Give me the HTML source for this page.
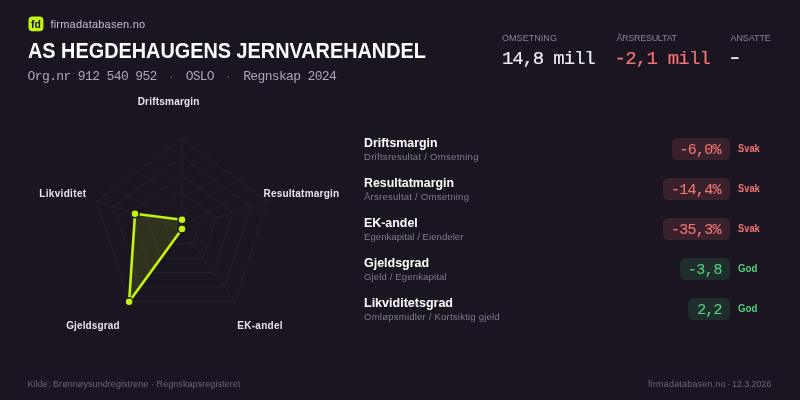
<!DOCTYPE html>
<html lang="no">
<head>
<meta charset="utf-8">
<title>AS HEGDEHAUGENS JERNVAREHANDEL – firmadatabasen.no</title>
<style>
*{margin:0;padding:0;box-sizing:border-box}
html,body{width:800px;height:400px;overflow:hidden;background:#1b1521}
body{position:relative;font-family:"Liberation Sans",sans-serif;-webkit-font-smoothing:antialiased}
#card{position:absolute;left:0;top:0;width:800px;height:400px;overflow:hidden;background:#1b1521;will-change:transform}
.t{position:absolute;white-space:pre;transform-origin:0 50%}
.s{font-family:"Liberation Sans",sans-serif}
.m{font-family:"Liberation Mono",monospace;-webkit-text-stroke:.16px currentColor}
.b{font-weight:700}
.ns{-webkit-text-stroke:0}
.ls{-webkit-text-stroke:.12px currentColor}
.logo{position:absolute;left:28px;top:16px;width:16px;height:16px}
.logo span{position:absolute;left:3.4px;top:.6px;font:700 11.6px/13px "Liberation Sans",sans-serif;color:#17131f;transform:scaleX(.9);transform-origin:0 50%}
.pill{position:absolute;height:22px;border-radius:5px}
.pill.bad{background:#38212b}
.pill.good{background:#1f2d2c}
svg{position:absolute;left:0;top:0}
.grid polygon,.grid line{fill:none;stroke:#25202a;stroke-width:1}
.shape{fill:#c3f60c;fill-opacity:.13;stroke:#c3f60c;stroke-width:2.6;stroke-linejoin:round}
.dots circle{fill:#c3f60c;stroke:#1b1521;stroke-width:1.5}
</style>
</head>
<body>
<div id="card">
<svg width="800" height="400" viewBox="0 0 800 400">
<rect x="28.5" y="16.5" width="14.9" height="14.85" rx="4" fill="#c3f60c"/>
<g class="grid"><polygon points="182.00,211.00 199.12,223.44 192.58,243.56 171.42,243.56 164.88,223.44"/><polygon points="182.00,193.00 216.24,217.88 203.16,258.12 160.84,258.12 147.76,217.88"/><polygon points="182.00,175.00 233.36,212.31 213.74,272.69 150.26,272.69 130.64,212.31"/><polygon points="182.00,157.00 250.48,206.75 224.32,287.25 139.68,287.25 113.52,206.75"/><polygon points="182.00,139.00 267.60,201.19 234.90,301.81 129.10,301.81 96.40,201.19"/><line x1="182" y1="229" x2="182.00" y2="139.00"/><line x1="182" y1="229" x2="267.60" y2="201.19"/><line x1="182" y1="229" x2="234.90" y2="301.81"/><line x1="182" y1="229" x2="129.10" y2="301.81"/><line x1="182" y1="229" x2="96.40" y2="201.19"/></g>
<polygon class="shape" points="182.00,219.80 182.00,229.00 182.00,229.00 129.10,301.81 135.02,213.73"/>
<g class="dots"><circle cx="182.00" cy="219.80" r="4"/><circle cx="182.00" cy="229.00" r="4"/><circle cx="182.00" cy="229.00" r="4"/><circle cx="129.10" cy="301.81" r="4"/><circle cx="135.02" cy="213.73" r="4"/></g>
</svg>
<div class="logo"><span>fd</span></div>
<div class="pill bad" style="left:671.5px;top:138px;width:58.5px"></div><div class="pill bad" style="left:663.1px;top:178px;width:66.9px"></div><div class="pill bad" style="left:663.1px;top:218px;width:66.9px"></div><div class="pill good" style="left:679.9px;top:258px;width:50.1px"></div><div class="pill good" style="left:688.3px;top:298px;width:41.7px"></div>
<div class="t s" style="left:50.40px;top:17.00px;font-size:11px;line-height:14px;color:#c4bfce;letter-spacing:0.225px">firmadatabasen.no</div>
<div class="t s b" style="left:27.85px;top:37.00px;font-size:22px;line-height:27px;color:#ffffff;transform:scaleX(0.9026)">AS HEGDEHAUGENS JERNVAREHANDEL</div>
<div class="t m ns" style="left:27.60px;top:69.00px;font-size:13px;line-height:16px;color:#aba6b8;letter-spacing:-0.624px">Org.nr 912 540 952</div>
<div class="t m ns" style="left:167.90px;top:70.00px;font-size:11px;line-height:14px;color:#6f6a7d">·</div>
<div class="t m ns" style="left:185.80px;top:69.00px;font-size:13px;line-height:16px;color:#aba6b8;letter-spacing:-0.833px">OSLO</div>
<div class="t m ns" style="left:225.10px;top:70.00px;font-size:11px;line-height:14px;color:#6f6a7d">·</div>
<div class="t m ns" style="left:243.20px;top:69.00px;font-size:13px;line-height:16px;color:#aba6b8;letter-spacing:-0.650px">Regnskap 2024</div>
<div class="t s" style="left:502.00px;top:33.00px;font-size:9px;line-height:11px;color:#88839a;letter-spacing:0.050px">OMSETNING</div>
<div class="t s" style="left:616.40px;top:33.00px;font-size:9px;line-height:11px;color:#88839a;letter-spacing:-0.290px">ÅRSRESULTAT</div>
<div class="t s" style="left:730.50px;top:33.00px;font-size:9px;line-height:11px;color:#88839a;letter-spacing:-0.083px">ANSATTE</div>
<div class="t m" style="left:501.90px;top:48.00px;font-size:19px;line-height:23px;color:#f2f0f6;letter-spacing:-1.112px">14,8 mill</div>
<div class="t m" style="left:614.50px;top:48.00px;font-size:19px;line-height:23px;color:#f27474;letter-spacing:-0.775px">-2,1 mill</div>
<div class="t m b" style="left:730.00px;top:48.00px;font-size:16px;line-height:20px;color:#f2f0f6">–</div>
<div class="t s b" style="left:363.80px;top:135.00px;font-size:13px;line-height:16px;color:#ffffff;transform:scaleX(0.9513)">Driftsmargin</div>
<div class="t s" style="left:364.00px;top:151.00px;font-size:9.6px;line-height:12px;color:#7f7a8e;letter-spacing:0.250px">Driftsresultat / Omsetning</div>
<div class="t m ls" style="left:679.40px;top:142.00px;font-size:15px;line-height:18px;color:#f27474;letter-spacing:-0.750px">-6,0%</div>
<div class="t s b" style="left:738.00px;top:143.00px;font-size:10px;line-height:12px;color:#f27474;transform:scaleX(0.9304)">Svak</div>
<div class="t s b" style="left:363.80px;top:175.00px;font-size:13px;line-height:16px;color:#ffffff;transform:scaleX(0.9511)">Resultatmargin</div>
<div class="t s" style="left:364.00px;top:191.00px;font-size:9.6px;line-height:12px;color:#7f7a8e;letter-spacing:0.216px">Årsresultat / Omsetning</div>
<div class="t m ls" style="left:671.00px;top:182.00px;font-size:15px;line-height:18px;color:#f27474;letter-spacing:-0.720px">-14,4%</div>
<div class="t s b" style="left:738.00px;top:183.00px;font-size:10px;line-height:12px;color:#f27474;transform:scaleX(0.9304)">Svak</div>
<div class="t s b" style="left:363.80px;top:215.00px;font-size:13px;line-height:16px;color:#ffffff;transform:scaleX(0.9537)">EK-andel</div>
<div class="t s" style="left:364.00px;top:231.00px;font-size:9.6px;line-height:12px;color:#7f7a8e;letter-spacing:0.034px">Egenkapital / Eiendeler</div>
<div class="t m ls" style="left:671.00px;top:222.00px;font-size:15px;line-height:18px;color:#f27474;letter-spacing:-0.720px">-35,3%</div>
<div class="t s b" style="left:738.00px;top:223.00px;font-size:10px;line-height:12px;color:#f27474;transform:scaleX(0.9304)">Svak</div>
<div class="t s b" style="left:363.80px;top:255.00px;font-size:13px;line-height:16px;color:#ffffff;transform:scaleX(0.9582)">Gjeldsgrad</div>
<div class="t s" style="left:364.00px;top:271.00px;font-size:9.6px;line-height:12px;color:#7f7a8e;letter-spacing:0.111px">Gjeld / Egenkapital</div>
<div class="t m ls" style="left:687.80px;top:262.00px;font-size:15px;line-height:18px;color:#4fd27d;letter-spacing:-0.467px">-3,8</div>
<div class="t s b" style="left:738.00px;top:263.00px;font-size:10px;line-height:12px;color:#4fd27d;transform:scaleX(0.9700)">God</div>
<div class="t s b" style="left:363.80px;top:295.00px;font-size:13px;line-height:16px;color:#ffffff;transform:scaleX(0.9627)">Likviditetsgrad</div>
<div class="t s" style="left:364.00px;top:311.00px;font-size:9.6px;line-height:12px;color:#7f7a8e;letter-spacing:0.187px">Omløpsmidler / Kortsiktig gjeld</div>
<div class="t m ls" style="left:697.20px;top:302.00px;font-size:15px;line-height:18px;color:#4fd27d;letter-spacing:-0.900px">2,2</div>
<div class="t s b" style="left:738.00px;top:303.00px;font-size:10px;line-height:12px;color:#4fd27d;transform:scaleX(0.9700)">God</div>
<div class="t s b" style="left:137.70px;top:96.00px;font-size:10px;line-height:12px;color:#e6e3ec;letter-spacing:0.209px">Driftsmargin</div>
<div class="t s b" style="left:263.50px;top:188.00px;font-size:10px;line-height:12px;color:#e6e3ec;letter-spacing:0.212px">Resultatmargin</div>
<div class="t s b" style="left:237.25px;top:320.00px;font-size:10px;line-height:12px;color:#e6e3ec;letter-spacing:0.279px">EK-andel</div>
<div class="t s b" style="left:66.20px;top:320.00px;font-size:10px;line-height:12px;color:#e6e3ec;letter-spacing:0.122px">Gjeldsgrad</div>
<div class="t s b" style="left:39.20px;top:188.00px;font-size:10px;line-height:12px;color:#e6e3ec;letter-spacing:0.339px">Likviditet</div>
<div class="t s" style="left:27.60px;top:379.00px;font-size:9px;line-height:11px;color:#6b667a;letter-spacing:0.063px">Kilde: Brønnøysundregistrene · Regnskapsregisteret</div>
<div class="t s" style="left:648.00px;top:379.00px;font-size:9px;line-height:11px;color:#6b667a;letter-spacing:0.188px">firmadatabasen.no</div>
<div class="t s" style="left:727.10px;top:379.00px;font-size:9px;line-height:11px;color:#6b667a">·</div>
<div class="t s" style="left:732.00px;top:379.00px;font-size:9px;line-height:11px;color:#6b667a;letter-spacing:-0.094px">12.3.2026</div>
</div>
</body>
</html>
